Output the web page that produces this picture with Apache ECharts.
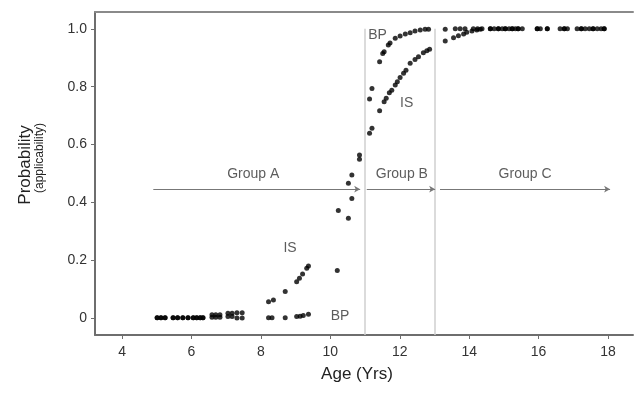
<!DOCTYPE html>
<html><head><meta charset="utf-8">
<script src="https://cdn.jsdelivr.net/npm/echarts@6/dist/echarts.min.js"></script>
<style>html,body{margin:0;padding:0;background:#fff}#c{width:635px;height:394px}</style>
</head><body><div id="c"></div>
<script>
// ---- data ----
const isAge = [5.01,5.12,5.24,5.47,5.6,5.75,5.9,6.05,6.15,6.25,6.33,6.59,6.7,6.82,7.05,7.17,7.31,7.46,
  8.22,8.36,8.70,9.03,9.11,9.20,9.32,9.37,
  10.23,10.52,10.52,10.84,11.13,11.20,
  11.42,11.55,11.61,11.70,11.77,11.87,11.93,12.01,12.11,12.18,12.30,12.44,12.54,12.68,12.78,12.86,
  13.31,13.55,13.69,13.84,13.93,14.08,14.22,14.32,14.61,14.84,15.04,15.24,15.41,15.96,16.25,16.74,17.23,17.57,17.89];
const isProb = [0.002,0.002,0.002,0.002,0.002,0.002,0.002,0.002,0.002,0.002,0.002,0.012,0.012,0.012,0.017,0.017,0.019,0.019,
  0.057,0.063,0.092,0.126,0.138,0.153,0.173,0.180,
  0.372,0.345,0.466,0.549,0.639,0.656,
  0.717,0.748,0.760,0.779,0.788,0.806,0.817,0.832,0.846,0.857,0.881,0.894,0.903,0.917,0.924,0.929,
  0.958,0.969,0.976,0.982,0.988,0.992,0.996,0.998,1.0,1.0,1.0,1.0,1.0,1.0,1.0,1.0,1.0,1.0,1.0];
const bpAge = [5.01,5.12,5.24,5.47,5.6,5.75,5.9,6.05,6.15,6.25,6.33,6.59,6.7,6.82,7.05,7.17,7.31,7.46,
  8.22,8.32,8.70,9.03,9.13,9.22,9.37,
  10.20,10.62,10.62,10.84,11.13,11.20,11.42,11.51,11.55,11.67,11.72,11.87,12.01,12.16,12.30,12.44,12.59,12.73,12.83,
  13.31,13.60,13.74,13.88,14.12,14.24,14.37,14.61,14.72,14.84,14.95,15.04,15.15,15.24,15.33,15.41,15.53,15.96,16.05,16.25,16.62,16.74,16.83,17.11,17.23,17.34,17.46,17.57,17.69,17.80,17.89];
const bpProb = [0.002,0.002,0.002,0.002,0.002,0.002,0.002,0.002,0.002,0.002,0.002,0.003,0.003,0.003,0.006,0.006,0.001,0.001,
  0.002,0.002,0.002,0.006,0.007,0.009,0.014,
  0.165,0.414,0.495,0.564,0.757,0.794,0.886,0.915,0.921,0.944,0.951,0.967,0.975,0.982,0.986,0.992,0.996,0.998,0.998,
  0.998,1.0,1.0,1.0,1.0,1.0,1.0,1.0,1.0,1.0,1.0,1.0,1.0,1.0,1.0,1.0,1.0,1.0,1.0,1.0,1.0,1.0,1.0,1.0,1.0,1.0,1.0,1.0,1.0,1.0,1.0];
const xTicks = [4,6,8,10,12,14,16,18];
const yTicks = [0,0.2,0.4,0.6,0.8,1.0];
const boundaryAges = [11, 13];
const groupNames = ['Group A','Group B','Group C'];
const groupStart = [4.9, 11.05, 13.16];
const groupEnd = [10.86, 13.02, 18.06];
const groupArrowY = 0.446;
const groupLabelX = [7.78, 12.06, 15.61];
const groupLabelY = 0.497;
const curveLabels = ['IS','BP','BP','IS'];
const curveLabelX = [8.84, 10.28, 11.36, 12.20];
const curveLabelY = [0.242, 0.006, 0.978, 0.742];
const xMin = 3.22, xMax = 18.72, yMin = -0.058, yMax = 1.058;

// ---- chart ----
const FONT = 'Liberation Sans, Arial, sans-serif';
const chart = echarts.init(document.getElementById('c'), null, {renderer:'canvas'});
const toPts = (a, p) => a.map((v, i) => [v, p[i]]);
const dotStyle = {color:'#000'};
const annot = [];
groupNames.forEach((n, i) => annot.push({value:[groupLabelX[i], groupLabelY], name:n}));
curveLabels.forEach((n, i) => annot.push({value:[curveLabelX[i], curveLabelY[i]], name:n}));

chart.setOption({
  animation:false,
  grid:{left:95, right:2, top:12, bottom:59, show:false},
  xAxis:[{
    type:'value', min:xMin, max:xMax,
    axisLine:{show:true, onZero:false, lineStyle:{color:'#6e6e6e', width:2}},
    axisTick:{show:true, customValues:xTicks, length:4, lineStyle:{color:'#6e6e6e', width:1}},
    axisLabel:{customValues:xTicks, color:'#333', fontSize:14, fontFamily:FONT, margin:10},
    splitLine:{show:false}
  },{
    type:'value', min:xMin, max:xMax, position:'top',
    axisLine:{show:true, onZero:false, lineStyle:{color:'#8a8a8a', width:2}},
    axisTick:{show:false}, axisLabel:{show:false}, splitLine:{show:false}
  }],
  yAxis:{
    type:'value', min:yMin, max:yMax,
    axisLine:{show:true, onZero:false, lineStyle:{color:'#6e6e6e', width:2}},
    axisTick:{show:true, customValues:yTicks, length:4, lineStyle:{color:'#6e6e6e', width:1}},
    axisLabel:{customValues:yTicks, color:'#333', fontSize:14, fontFamily:FONT, margin:8,
      formatter:v => (Math.abs(v) < 1e-9 ? '0' : v.toFixed(1))},
    splitLine:{show:false}
  },
  graphic:[
    {type:'text', x:357, y:374, style:{text:'Age (Yrs)', font:'17px ' + FONT, fill:'#222', textAlign:'center', textVerticalAlign:'middle'}},
    {type:'text', x:25, y:165, rotation:Math.PI/2, style:{text:'Probability', font:'17px ' + FONT, fill:'#222', textAlign:'center', textVerticalAlign:'middle'}},
    {type:'text', x:40, y:158, rotation:Math.PI/2, style:{text:'(applicability)', font:'12px ' + FONT, fill:'#222', textAlign:'center', textVerticalAlign:'middle'}}
  ],
  series:[
    {
      type:'line', data:[], silent:true,
      markLine:{
        silent:true, symbol:['none','none'], label:{show:false},
        lineStyle:{color:'#cfcfcf', width:1.5, type:'solid'},
        data: boundaryAges.map(b => [{coord:[b, yMin]}, {coord:[b, 1.0]}])
      }
    },
    {
      type:'line', data:[], silent:true,
      markLine:{
        silent:true, symbol:['none','arrow'], symbolSize:[5,6], label:{show:false},
        lineStyle:{color:'#777', width:1, type:'solid'},
        data: groupNames.map((n, i) => [{coord:[groupStart[i], groupArrowY]}, {coord:[groupEnd[i], groupArrowY]}])
      }
    },
    {name:'IS', type:'scatter', data:toPts(isAge, isProb), symbolSize:5, itemStyle:dotStyle},
    {name:'BP', type:'scatter', data:toPts(bpAge, bpProb), symbolSize:5, itemStyle:dotStyle},
    {
      type:'scatter', data:annot, symbolSize:0, silent:true,
      label:{show:true, position:'inside', formatter:p => p.name, color:'#333', fontSize:14, fontFamily:FONT}
    }
  ]
});
</script></body></html>
